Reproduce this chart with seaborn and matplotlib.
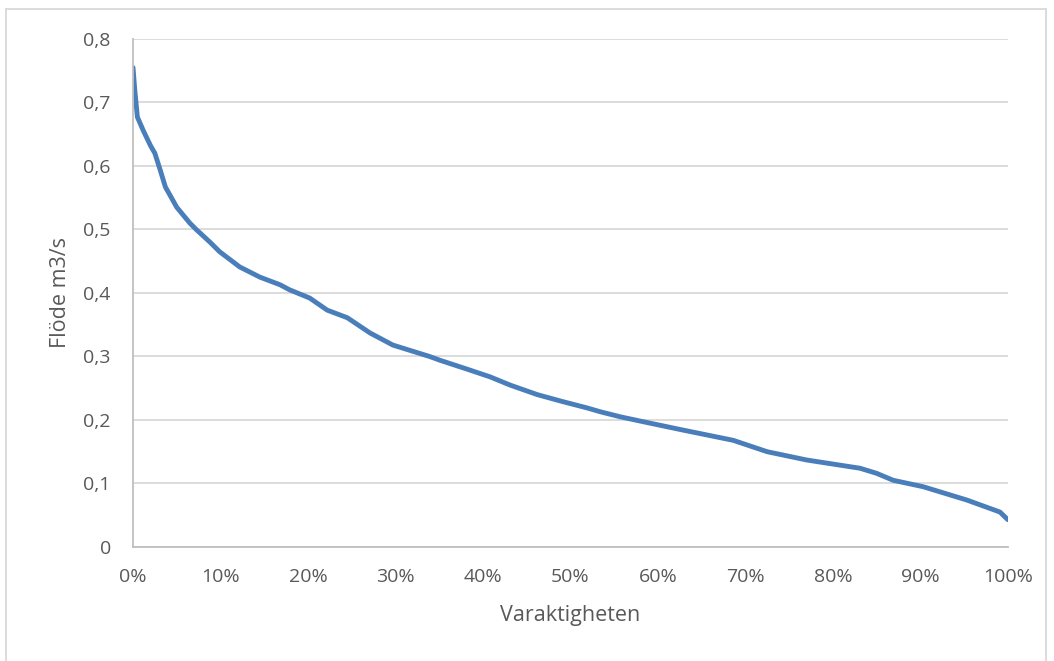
import matplotlib
matplotlib.use("Agg")
import matplotlib.pyplot as plt
import matplotlib.ticker as mtick
from matplotlib.patches import Rectangle
import seaborn as sns
import pandas as pd

#data (duration share, flow m3/s)
varaktighet = [0.0, 0.002, 0.005, 0.012, 0.02, 0.025, 0.031, 0.037, 0.05, 0.065, 0.073, 0.077,
               0.088, 0.099, 0.122, 0.145, 0.168, 0.179, 0.202, 0.222, 0.245, 0.271, 0.297,
               0.339, 0.351, 0.382, 0.408, 0.431, 0.462, 0.491, 0.519, 0.534, 0.557, 0.591,
               0.629, 0.686, 0.725, 0.77, 0.831, 0.85, 0.869, 0.903, 0.953, 0.991, 1.0]
flode = [0.755, 0.72, 0.677, 0.655, 0.632, 0.62, 0.594, 0.567, 0.535, 0.51, 0.499, 0.494,
         0.48, 0.465, 0.441, 0.425, 0.413, 0.405, 0.392, 0.373, 0.361, 0.337, 0.318,
         0.3, 0.294, 0.28, 0.268, 0.255, 0.24, 0.229, 0.219, 0.213, 0.205, 0.195,
         0.184, 0.168, 0.15, 0.137, 0.124, 0.116, 0.105, 0.095, 0.074, 0.055, 0.043]

df = pd.DataFrame({"varaktighet": varaktighet, "flode": flode})

sns.set_style("white")
plt.rcParams["font.family"] = ["Open Sans", "DejaVu Sans"]

fig = plt.figure(figsize=(10.54, 6.61), dpi=100)
ax = fig.add_axes([0.1262, 0.1725, 0.83, 0.7685])

sns.lineplot(x="varaktighet", y="flode", data=df, ax=ax, color="#4A7EBB", linewidth=3.5)

ax.set_xlim(0, 1)
ax.set_ylim(0, 0.8)
ax.set_xticks([i / 10 for i in range(11)])
ax.set_yticks([i / 10 for i in range(9)])
ax.xaxis.set_major_formatter(mtick.PercentFormatter(xmax=1, decimals=0))
ax.yaxis.set_major_formatter(mtick.FuncFormatter(lambda v, p: "0" if v == 0 else f"{v:.1f}".replace(".", ",")))
ax.tick_params(length=0, labelsize=14, labelcolor="#595959")
ax.tick_params(axis="y", pad=16)
ax.tick_params(axis="x", pad=15)
ax.yaxis.grid(True, color="#d9d9d9", linewidth=1.3)
ax.set_axisbelow(True)
for s in ["top", "right"]:
    ax.spines[s].set_visible(False)
for s in ["left", "bottom"]:
    ax.spines[s].set_color("#bfbfbf")
    ax.spines[s].set_linewidth(1.3)

ax.set_xlabel("Varaktigheten", fontsize=15.5, color="#595959", labelpad=14)
ax.set_ylabel("Flöde m3/s", fontsize=15.5, color="#595959", labelpad=9)

#outer chart border (bottom edge falls outside the picture)
fig.patches.append(Rectangle((6 / 1054, -10 / 661), 1040 / 1054, 662 / 661, transform=fig.transFigure,
                             fill=False, edgecolor="#d9d9d9", linewidth=1.3))

plt.savefig("out.png", dpi=100)
